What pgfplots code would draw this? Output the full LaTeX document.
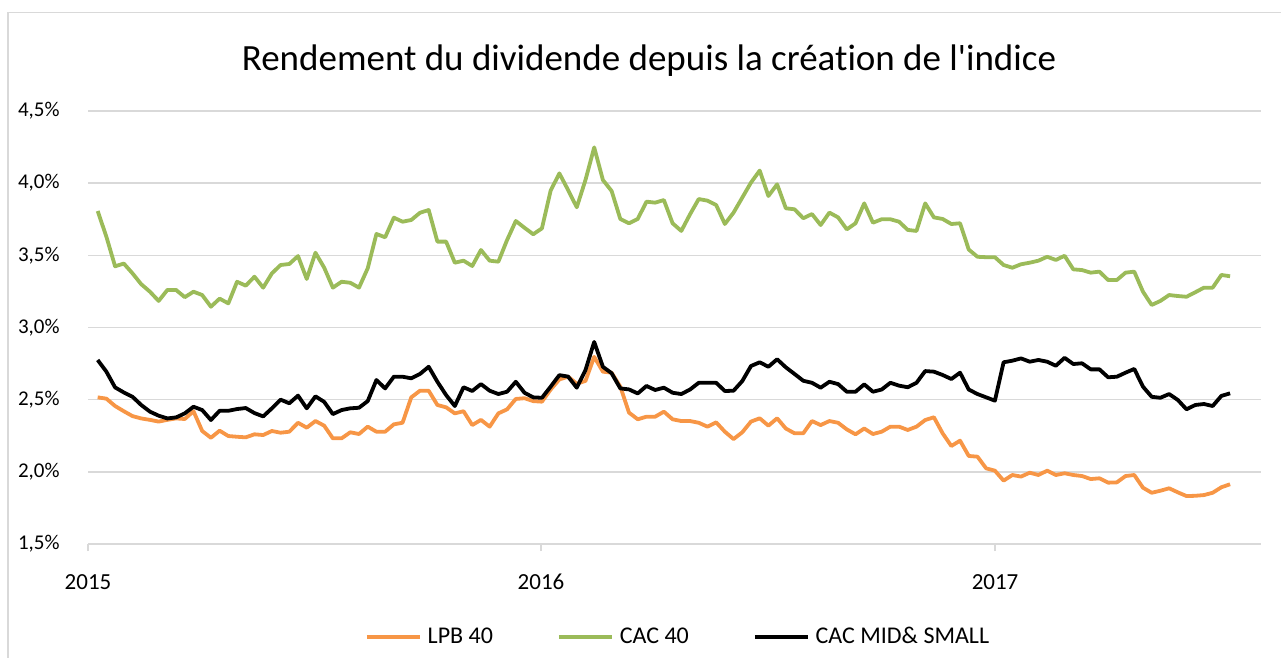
\documentclass[border=0pt]{standalone}
\usepackage{fontspec}
\setmainfont{Carlito}[Ligatures={TeXOff,CommonOff}]
\usepackage{pgfplots}
\pgfplotsset{compat=1.18}
\usepackage{pgfplotstable}
\definecolor{lpb}{HTML}{F79646}
\definecolor{cac}{HTML}{9BBB59}
\definecolor{gridgray}{HTML}{D9D9D9}

\pgfplotstableread{
w lpb cac mid
0 2.516 3.807 2.775
1 2.507 3.629 2.694
2 2.456 3.424 2.585
3 2.420 3.443 2.550
4 2.386 3.375 2.520
5 2.370 3.300 2.463
6 2.360 3.248 2.417
7 2.348 3.184 2.389
8 2.360 3.260 2.370
9 2.370 3.260 2.377
10 2.366 3.210 2.405
11 2.420 3.248 2.451
12 2.283 3.225 2.428
13 2.236 3.144 2.359
14 2.285 3.200 2.423
15 2.248 3.167 2.423
16 2.243 3.317 2.435
17 2.239 3.290 2.442
18 2.260 3.352 2.407
19 2.255 3.276 2.384
20 2.283 3.375 2.440
21 2.271 3.433 2.500
22 2.278 3.440 2.475
23 2.340 3.495 2.528
24 2.306 3.336 2.440
25 2.352 3.518 2.523
26 2.320 3.415 2.485
27 2.232 3.276 2.400
28 2.232 3.317 2.428
29 2.274 3.310 2.440
30 2.262 3.276 2.444
31 2.313 3.410 2.490
32 2.278 3.648 2.636
33 2.278 3.625 2.578
34 2.329 3.761 2.659
35 2.340 3.733 2.659
36 2.516 3.745 2.648
37 2.562 3.795 2.678
38 2.562 3.814 2.728
39 2.463 3.595 2.624
40 2.447 3.595 2.532
41 2.405 3.449 2.456
42 2.420 3.463 2.586
43 2.324 3.426 2.560
44 2.360 3.537 2.608
45 2.313 3.463 2.562
46 2.405 3.456 2.539
47 2.433 3.606 2.555
48 2.505 3.738 2.624
49 2.510 3.691 2.548
50 2.490 3.646 2.516
51 2.486 3.687 2.513
52 2.570 3.948 2.590
53 2.640 4.068 2.670
54 2.660 3.953 2.660
55 2.610 3.833 2.583
56 2.630 4.022 2.705
57 2.797 4.248 2.900
58 2.694 4.022 2.728
59 2.687 3.946 2.683
60 2.590 3.752 2.578
61 2.410 3.722 2.571
62 2.364 3.752 2.543
63 2.382 3.872 2.595
64 2.382 3.865 2.567
65 2.417 3.883 2.583
66 2.364 3.722 2.548
67 2.352 3.669 2.539
68 2.352 3.784 2.570
69 2.340 3.890 2.617
70 2.313 3.879 2.617
71 2.343 3.849 2.617
72 2.278 3.717 2.560
73 2.227 3.796 2.562
74 2.274 3.900 2.629
75 2.348 4.004 2.733
76 2.371 4.087 2.759
77 2.320 3.911 2.728
78 2.371 3.992 2.780
79 2.300 3.826 2.724
80 2.267 3.819 2.678
81 2.267 3.757 2.631
82 2.352 3.786 2.617
83 2.324 3.710 2.583
84 2.352 3.796 2.624
85 2.340 3.763 2.608
86 2.294 3.680 2.555
87 2.260 3.722 2.555
88 2.300 3.860 2.606
89 2.262 3.726 2.555
90 2.278 3.750 2.570
91 2.313 3.750 2.617
92 2.313 3.733 2.597
93 2.290 3.676 2.586
94 2.313 3.669 2.617
95 2.359 3.860 2.698
96 2.378 3.763 2.694
97 2.267 3.752 2.671
98 2.179 3.717 2.643
99 2.216 3.722 2.687
100 2.110 3.540 2.570
101 2.105 3.490 2.539
102 2.024 3.487 2.516
103 2.008 3.487 2.493
104 1.939 3.433 2.759
105 1.978 3.414 2.770
106 1.967 3.438 2.786
107 1.994 3.449 2.763
108 1.978 3.463 2.775
109 2.008 3.490 2.763
110 1.978 3.468 2.735
111 1.990 3.497 2.790
112 1.978 3.403 2.747
113 1.971 3.398 2.752
114 1.950 3.380 2.710
115 1.955 3.387 2.710
116 1.925 3.329 2.655
117 1.927 3.329 2.659
118 1.971 3.380 2.687
119 1.978 3.387 2.713
120 1.890 3.248 2.590
121 1.855 3.156 2.520
122 1.869 3.184 2.513
123 1.886 3.225 2.539
124 1.858 3.218 2.498
125 1.832 3.213 2.433
126 1.834 3.244 2.463
127 1.839 3.276 2.470
128 1.855 3.276 2.456
129 1.893 3.364 2.526
130 1.914 3.355 2.544
}\data

\begin{document}
\begin{tikzpicture}
\clip (0,0) rectangle (640.5bp,329bp);
\draw[gridgray, line width=0.75bp] (4bp,-5bp) -- (4bp,322.75bp) -- (650bp,322.75bp);
\node[anchor=base, inner sep=0pt, font=\fontsize{18.5bp}{22bp}\selectfont] at (324.5bp,293.5bp) {Rendement du dividende depuis la création de l'indice};
\begin{axis}[
  at={(44bp,57bp)}, anchor=south west,
  scale only axis, width=586.5bp, height=216.5bp,
  xmin=-1.11, xmax=133.55, ymin=1.5, ymax=4.5,
  xtick={-1.11,50.9,103.02}, xticklabels={2015,2016,2017},
  ytick={1.5,2,2.5,3,3.5,4,4.5},
  yticklabels={{1,5\%},{2,0\%},{2,5\%},{3,0\%},{3,5\%},{4,0\%},{4,5\%}},
  ymajorgrids, grid style={gridgray, line width=0.75bp},
  axis line style={draw=none},
  xtick pos=left, tick align=outside, major tick length=3.5bp,
  xtick style={draw=gridgray, line width=0.75bp},
  ytick style={draw=none},
  yticklabel style={font=\fontsize{10.5bp}{12bp}\selectfont, inner sep=0pt, xshift=-10.5bp},
  xticklabel style={font=\fontsize{11.5bp}{13bp}\selectfont, inner sep=0pt, yshift=-11.5bp},
  legend columns=3,
  legend style={draw=none, fill=none, at={(axis description cs:0.2361,-0.2150)}, anchor=west,
    inner sep=0pt, outer sep=0pt, font=\fontsize{12bp}{14bp}\selectfont,
    nodes={inner sep=0pt},
    /tikz/every odd column/.append style={column sep=3bp},
    /tikz/every even column/.append style={column sep=32bp}},
  legend image code/.code={\draw[#1] (0bp,0bp) -- (26.5bp,0bp);},
  every axis plot/.append style={line width=1.9bp, line join=round},
]
\addplot[lpb] table[x=w, y=lpb] {\data};
\addlegendentry{LPB 40}
\addplot[cac] table[x=w, y=cac] {\data};
\addlegendentry{CAC 40}
\addplot[black] table[x=w, y=mid] {\data};
\addlegendentry{CAC MID\& SMALL}
\end{axis}
\end{tikzpicture}
\end{document}
